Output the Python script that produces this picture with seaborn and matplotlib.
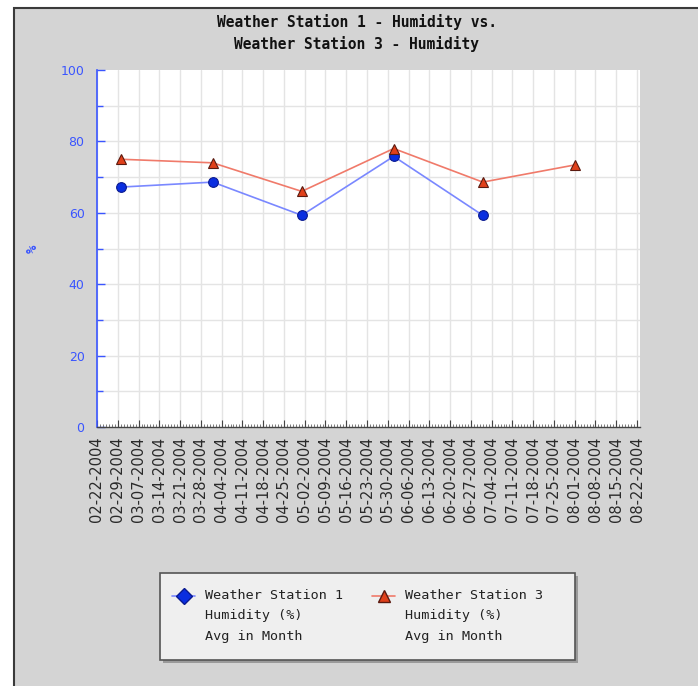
import matplotlib
matplotlib.use("Agg")
import matplotlib.pyplot as plt
import matplotlib.dates as mdates
import matplotlib.ticker as mticker
from matplotlib.patches import Rectangle
from matplotlib.lines import Line2D
import seaborn as sns
import pandas as pd
import numpy as np

title = "Weather Station 1 - Humidity vs.\nWeather Station 3 - Humidity"
s1_name = "Weather Station 1\nHumidity (%)\nAvg in Month"
s3_name = "Weather Station 3\nHumidity (%)\nAvg in Month"

s1_dates = ["2004-03-01", "2004-04-01", "2004-05-01", "2004-06-01", "2004-07-01"]
s1_values = [67.2, 68.6, 59.3, 75.8, 59.3]
s3_dates = ["2004-03-01", "2004-04-01", "2004-05-01", "2004-06-01", "2004-07-01", "2004-08-01"]
s3_values = [75.0, 74.0, 66.0, 78.0, 68.6, 73.4]

tick_start = "2004-02-22"
tick_end = "2004-08-22"

df = pd.concat([
    pd.DataFrame({"date": pd.to_datetime(s1_dates), "value": s1_values, "series": s1_name}),
    pd.DataFrame({"date": pd.to_datetime(s3_dates), "value": s3_values, "series": s3_name}),
], ignore_index=True)

sns.set_theme(style="white")
plt.rcParams["font.family"] = ["DejaVu Sans"]

W, H = 698, 686
fig = plt.figure(figsize=(W / 100, H / 100), dpi=100)
fig.patch.set_facecolor("white")

# background panel
bg = fig.add_axes([0, 0, 1, 1], zorder=-10)
bg.set_xlim(0, W)
bg.set_ylim(H, 0)
bg.axis("off")
bg.add_patch(Rectangle((14, 8), W - 14 + 2, H - 8 + 2, facecolor="#d4d4d4", edgecolor="#3a3a3a", linewidth=1.5))

ax = fig.add_axes([97 / W, 1 - 427 / H, (640 - 97) / W, (427 - 70) / H], zorder=1)
ax.set_facecolor("white")

palette = {s1_name: "#7a88ff", s3_name: "#f07a6a"}
markers = {s1_name: "o", s3_name: "^"}
sns.lineplot(data=df, x="date", y="value", hue="series", style="series", markers=markers,
             dashes=False, palette=palette, ax=ax, legend=False, linewidth=1.2, markersize=7)

face = {s1_name: "#0a2ee0", s3_name: "#e0401a"}
edge = {s1_name: "#0a1a90", s3_name: "#5a1a10"}
names = [s1_name, s3_name]
for ln, nm in zip(ax.lines, names):
    ln.set_markerfacecolor(face[nm])
    ln.set_markeredgecolor(edge[nm])
    ln.set_markeredgewidth(0.8)

ax.set_ylim(0, 100)
ax.set_xlim(pd.Timestamp(tick_start), pd.Timestamp(tick_end) + pd.Timedelta(days=1))
ax.set_yticks(np.arange(0, 101, 20))
ax.set_yticks(np.arange(10, 100, 20), minor=True)
ax.xaxis.set_major_locator(mticker.FixedLocator(mdates.date2num(pd.date_range(tick_start, tick_end, freq="7D"))))
ax.xaxis.set_major_formatter(mdates.DateFormatter("%m-%d-%Y"))
ax.xaxis.set_minor_locator(mticker.FixedLocator(mdates.date2num(pd.date_range(tick_start, tick_end, freq="D"))))

ax.grid(True, which="major", axis="x", color="#e4e4e4", linewidth=1)
for yv in range(10, 100, 10):
    ax.axhline(yv, color="#e4e4e4", linewidth=1, zorder=0)
ax.set_axisbelow(True)

ax.tick_params(axis="y", which="both", left=True, direction="in", colors="#3a55ff", labelsize=9,
               length=6, width=1, pad=9)
ax.tick_params(axis="y", which="minor", length=4)
ax.tick_params(axis="x", which="both", bottom=True)
ax.tick_params(axis="x", which="major", direction="in", length=5, width=0.8, color="#444444",
               labelsize=10.5, labelcolor="#2a2a2a", labelrotation=90, pad=7)
ax.tick_params(axis="x", which="minor", direction="in", length=2.5, width=0.6, color="#666666")

for s in ["top", "right"]:
    ax.spines[s].set_visible(False)
ax.spines["left"].set_color("#3a55ff")
ax.spines["left"].set_linewidth(1.2)
ax.spines["bottom"].set_color("#444444")
ax.spines["bottom"].set_linewidth(1)

ax.set_xlabel("")
ax.set_ylabel("%", color="#3a55ff", fontsize=10, family="DejaVu Sans Mono", fontweight="bold")
ax.yaxis.set_label_coords((40 - 97) / (640 - 97), 0.5)

bg.text(357, 33, title, ha="center", va="center", family="DejaVu Sans Mono",
        fontweight="bold", fontsize=10.5, color="#111111", linespacing=1.5)

# legend box (drawn manually for top-aligned multi-line labels)
bg.add_patch(Rectangle((163, 576), 415, 87, facecolor="#9a9a9a", edgecolor="none"))
bg.add_patch(Rectangle((160, 573), 415, 87, facecolor="#efefef", edgecolor="#555555", linewidth=1.2))
for i, nm in enumerate(names):
    x0 = 172 + i * 200
    bg.add_line(Line2D([x0, x0 + 23], [596, 596], color=palette[nm], linewidth=1.2))
    bg.add_line(Line2D([x0 + 11.5], [596], marker="D" if i == 0 else "^", markersize=8,
                       markerfacecolor=face[nm], markeredgecolor=edge[nm], linestyle="none"))
    bg.text(x0 + 33, 589, nm, ha="left", va="top", family="DejaVu Sans Mono", fontsize=9.7,
            color="#222222", linespacing=1.75)

fig.savefig("out.png", dpi=100)
